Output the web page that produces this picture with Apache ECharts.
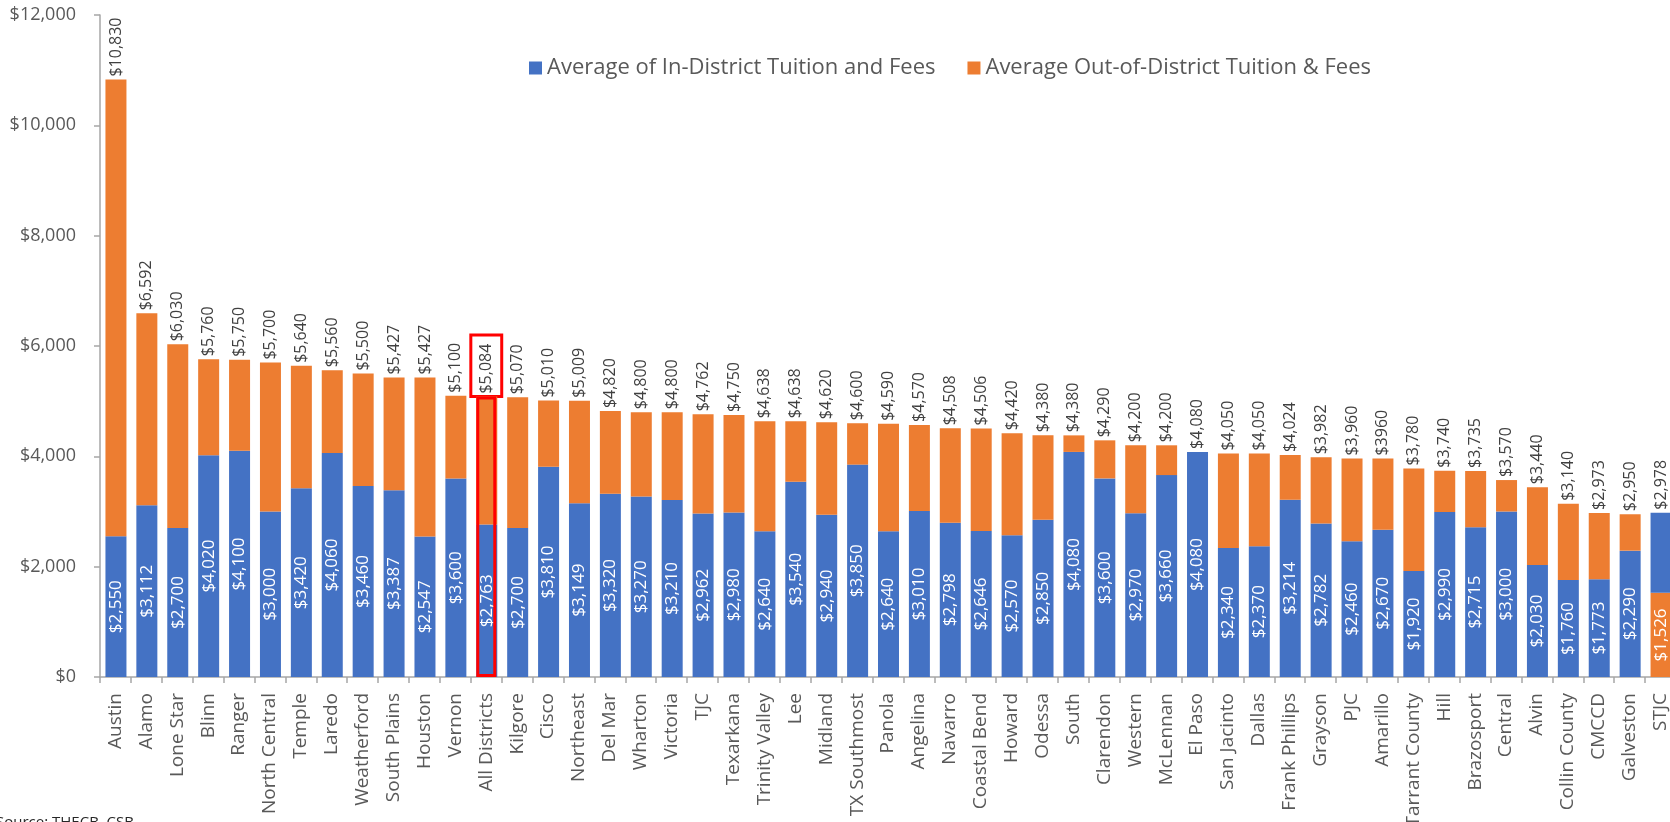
<!DOCTYPE html>
<html>
<head>
<meta charset="utf-8">
<script src="https://cdn.jsdelivr.net/npm/echarts@6/dist/echarts.min.js"></script>
<style>
  html, body { margin: 0; padding: 0; background: #fff; }
  #chart { width: 1670px; height: 822px; }
</style>
</head>
<body>
<div id="chart"></div>
<script>
// colleges, left to right
const colleges = [
  'Austin', 'Alamo', 'Lone Star', 'Blinn', 'Ranger', 'North Central', 'Temple', 'Laredo',
  'Weatherford', 'South Plains', 'Houston', 'Vernon', 'All Districts', 'Kilgore', 'Cisco',
  'Northeast', 'Del Mar', 'Wharton', 'Victoria', 'TJC', 'Texarkana', 'Trinity Valley', 'Lee',
  'Midland', 'TX Southmost', 'Panola', 'Angelina', 'Navarro', 'Coastal Bend', 'Howard',
  'Odessa', 'South', 'Clarendon', 'Western', 'McLennan', 'El Paso', 'San Jacinto', 'Dallas',
  'Frank Phillips', 'Grayson', 'PJC', 'Amarillo', 'Tarrant County', 'Hill', 'Brazosport',
  'Central', 'Alvin', 'Collin County', 'CMCCD', 'Galveston', 'STJC'
]
const inDistrict = [
  2550, 3112, 2700, 4020, 4100, 3000, 3420, 4060,
  3460, 3387, 2547, 3600, 2763, 2700, 3810,
  3149, 3320, 3270, 3210, 2962, 2980, 2640, 3540,
  2940, 3850, 2640, 3010, 2798, 2646, 2570,
  2850, 4080, 3600, 2970, 3660, 4080, 2340, 2370,
  3214, 2782, 2460, 2670, 1920, 2990, 2715,
  3000, 2030, 1760, 1773, 2290, 2978
]
const outDistrict = [
  10830, 6592, 6030, 5760, 5750, 5700, 5640, 5560,
  5500, 5427, 5427, 5100, 5084, 5070, 5010,
  5009, 4820, 4800, 4800, 4762, 4750, 4638, 4638,
  4620, 4600, 4590, 4570, 4508, 4506, 4420,
  4380, 4380, 4290, 4200, 4200, 4080, 4050, 4050,
  4024, 3982, 3960, 3960, 3780, 3740, 3735,
  3570, 3440, 3140, 2973, 2950, 1526
]
// label typed differently in the source
const labelOverrides = { Amarillo: '$3960' }
const highlighted = 'All Districts'
const highlightLabelTop = 6200
const yTicks = { min: 0, max: 12000, step: 2000 }

const BLUE = '#4472C4'
const ORANGE = '#ED7D31'
const GREY = '#595959'

const money = v => '$' + v.toLocaleString('en-US')

// the smaller value sits at the bottom, the gap is stacked on it
const lowerData = colleges.map((c, i) => {
  const inLow = inDistrict[i] <= outDistrict[i]
  return {
    value: Math.min(inDistrict[i], outDistrict[i]),
    itemStyle: { color: inLow ? BLUE : ORANGE }
  }
})
const upperData = colleges.map((c, i) => {
  const inLow = inDistrict[i] <= outDistrict[i]
  return {
    value: Math.abs(outDistrict[i] - inDistrict[i]),
    itemStyle: { color: inLow ? ORANGE : BLUE },
    topText: labelOverrides[c] || money(Math.max(inDistrict[i], outDistrict[i]))
  }
})
const highlightData = colleges.map((c, i) => c === highlighted ? outDistrict[i] : null)

const chart = echarts.init(document.getElementById('chart'))
chart.setOption({
  animation: false,
  textStyle: { fontFamily: 'Open Sans' },
  legend: {
    data: ['Average of In-District Tuition and Fees', 'Average Out-of-District Tuition & Fees'],
    left: 524,
    top: 52,
    icon: 'rect',
    itemWidth: 13,
    itemHeight: 13,
    itemGap: 32,
    textStyle: { fontSize: 22, color: GREY }
  },
  grid: { left: 100, right: -6, top: 15, bottom: 145, containLabel: false, outerBoundsMode: 'none' },
  xAxis: {
    type: 'category',
    data: colleges,
    axisLine: { lineStyle: { color: '#A6A6A6', width: 1.5 } },
    axisTick: { show: true, length: 6, lineStyle: { color: '#A6A6A6', width: 1.5 } },
    axisLabel: { rotate: 90, interval: 0, fontSize: 19, color: GREY, margin: 16 }
  },
  yAxis: {
    type: 'value',
    min: yTicks.min,
    max: yTicks.max,
    interval: yTicks.step,
    splitLine: { show: false },
    axisLine: { show: true, lineStyle: { color: '#A6A6A6', width: 1.5 } },
    axisTick: { show: true, length: 6, lineStyle: { color: '#A6A6A6', width: 1.5 } },
    axisLabel: { fontSize: 18, color: GREY, margin: 24, formatter: v => money(v) }
  },
  series: [
    {
      name: 'Average of In-District Tuition and Fees',
      type: 'bar',
      stack: 'fees',
      barWidth: 21,
      barGap: '-100%',
      itemStyle: { color: BLUE },
      label: {
        show: true,
        position: 'inside',
        rotate: 90,
        color: '#fff',
        fontSize: 17,
        formatter: p => money(p.value)
      },
      data: lowerData
    },
    {
      name: 'Average Out-of-District Tuition & Fees',
      type: 'bar',
      stack: 'fees',
      barWidth: 21,
      barGap: '-100%',
      itemStyle: { color: ORANGE },
      label: {
        show: true,
        position: 'top',
        rotate: 90,
        align: 'left',
        verticalAlign: 'middle',
        distance: 3,
        color: '#404040',
        fontSize: 16,
        formatter: p => p.data.topText
      },
      data: upperData
    },
    {
      name: 'highlight',
      type: 'bar',
      barWidth: 20,
      barGap: '-100%',
      silent: true,
      z: 5,
      itemStyle: { color: 'rgba(0,0,0,0)', borderColor: '#FF0000', borderWidth: 3 },
      markArea: {
        silent: true,
        itemStyle: { color: 'rgba(0,0,0,0)', borderColor: '#FF0000', borderWidth: 3 },
        data: [[
          { xAxis: highlighted, yAxis: outDistrict[colleges.indexOf(highlighted)] },
          { xAxis: highlighted, yAxis: highlightLabelTop }
        ]]
      },
      data: highlightData
    }
  ],
  graphic: [{
    type: 'text',
    left: -4,
    top: 815,
    style: { text: 'Source: THECB, CSB', fontSize: 15, fill: '#262626', fontFamily: 'Open Sans' }
  }]
})
</script>
</body>
</html>
